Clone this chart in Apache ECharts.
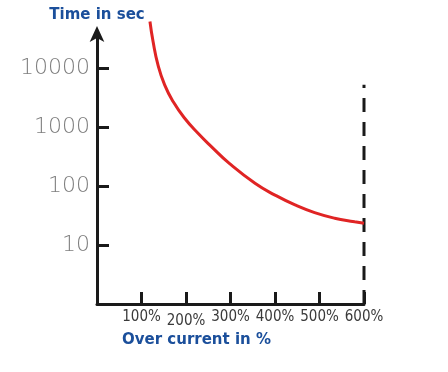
<!DOCTYPE html>
<html>
<head>
<meta charset="utf-8">
<script src="https://cdn.jsdelivr.net/npm/echarts@6/dist/echarts.min.js"></script>
<style>html,body{margin:0;padding:0;background:#fff;}#c{width:448px;height:372px;}</style>
</head>
<body>
<div id="c"></div>
<script>
// Data (over current in %, trip time in seconds)
const overCurrent = [119, 126, 137, 152, 171, 197, 227, 257, 298, 355, 400, 445, 489, 534, 579, 600];
const tripTime = [61000, 27900, 11250, 5150, 2690, 1400, 780, 464, 238, 111, 70, 47.6, 35.3, 28.4, 24.8, 23.3];
// Vertical dashed limit at 600 %
const limitX = [600, 600];
const limitY = [1, 5150];
const xTickLabels = {100: '100%', 200: '200%', 300: '300%', 400: '400%', 500: '500%', 600: '600%'};
const yTickLabels = {10: '10', 100: '100', 1000: '1000', 10000: '10000'};
const xAxisTitle = 'Over current in %';
const yAxisTitle = 'Time in sec';

const chart = echarts.init(document.getElementById('c'), null, {renderer: 'canvas'});
const axisColor = '#1a1a1a';
const blue = '#1b4f9b';
const narrow = '"Liberation Sans Narrow", "DejaVu Sans Condensed", sans-serif';

chart.setOption({
  animation: false,
  backgroundColor: '#fff',
  title: [{
    text: xAxisTitle, left: 117, top: 328,
    textStyle: {color: blue, fontFamily: 'DejaVu Sans', fontWeight: 'bold', fontSize: 15}
  }],
  grid: [
    {left: 97, right: 84, top: 35, bottom: 68},
    {left: 97, right: 84, top: 68, bottom: 68}
  ],
  xAxis: [{
    gridIndex: 0, type: 'value', min: 0, max: 600, interval: 100,
    splitLine: {show: false},
    axisLine: {show: true, lineStyle: {color: axisColor, width: 3}},
    axisTick: {show: true, inside: true, length: 12, lineStyle: {color: axisColor, width: 3}},
    axisLabel: {
      margin: 6, color: '#3a3a3a', fontSize: 15, fontFamily: narrow,
      formatter: v => v === 200 ? '{low|' + xTickLabels[v] + '}' : (xTickLabels[v] || ''),
      rich: {low: {padding: [4, 0, 0, 0], color: '#3a3a3a', fontSize: 15, fontFamily: narrow}}
    }
  }, {
    gridIndex: 1, type: 'value', min: 0, max: 600, show: false
  }],
  yAxis: [{
    gridIndex: 0, type: 'log', logBase: 10, min: 1, max: 36000,
    name: yAxisTitle, nameLocation: 'end', nameGap: 12,
    nameTextStyle: {color: blue, fontFamily: 'DejaVu Sans', fontWeight: 'bold', fontSize: 15, align: 'center'},
    splitLine: {show: false},
    axisLine: {show: true, symbol: ['none', 'arrow'], symbolSize: [11, 16], symbolOffset: [0, 9],
      lineStyle: {color: axisColor, width: 3}},
    axisTick: {show: false},
    axisLabel: {show: false}
  }, {
    gridIndex: 1, type: 'log', logBase: 10, min: 1, max: 10000,
    splitLine: {show: false},
    axisLine: {show: false},
    axisTick: {show: true, inside: true, length: 12, lineStyle: {color: axisColor, width: 3}},
    axisLabel: {
      margin: 7, color: '#7e7e7e', fontSize: 22, fontFamily: 'DejaVu Sans', fontWeight: 200,
      formatter: v => yTickLabels[Math.round(v)] || ''
    }
  }],
  series: [{
    type: 'line', xAxisIndex: 0, yAxisIndex: 0,
    data: overCurrent.map((x, i) => [x, tripTime[i]]),
    smooth: 0.5, symbol: 'none', clip: false,
    lineStyle: {color: '#e02424', width: 3}
  }, {
    type: 'line', xAxisIndex: 0, yAxisIndex: 0,
    data: limitX.map((x, i) => [x, limitY[i]]),
    symbol: 'none', clip: false, z: 1,
    lineStyle: {color: axisColor, width: 3, type: [14, 10]}
  }]
});
</script>
</body>
</html>
